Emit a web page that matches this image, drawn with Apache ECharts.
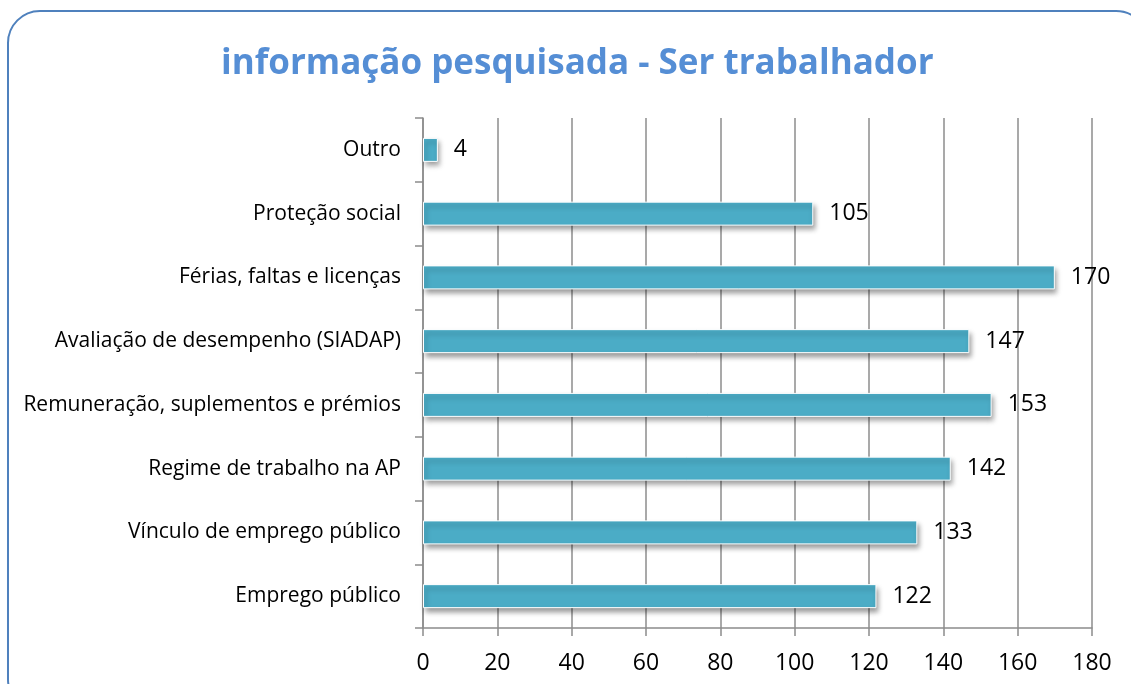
<!DOCTYPE html>
<html><head><meta charset="utf-8">
<script src="https://cdn.jsdelivr.net/npm/echarts@6/dist/echarts.min.js"></script>
<style>html,body{margin:0;padding:0;background:#fff}#c{width:1131px;height:684px}</style>
</head><body><div id="c"></div>
<script>
const categories = ["Emprego público","Vínculo de emprego público","Regime de trabalho na AP","Remuneração, suplementos e prémios","Avaliação de desempenho (SIADAP)","Férias, faltas e licenças","Proteção social","Outro"];
const values = [122,133,142,153,147,170,105,4];
const titleText = "informação pesquisada - Ser trabalhador";
const F = "'Open Sans', sans-serif";
const chart = echarts.init(document.getElementById('c'));
chart.setOption({
  animation:false,
  backgroundColor:'#fff',
  title:{text:titleText,left:216,top:42,textStyle:{fontFamily:F,fontSize:35,fontWeight:'bold',color:'#558ED5'}},
  graphic:[{type:'rect',shape:{x:8,y:11,width:1140,height:700,r:32},style:{fill:'none',stroke:'#4F81BD',lineWidth:2},silent:true,z:-1}],
  grid:{left:423,right:39,top:118,bottom:56},
  xAxis:{type:'value',min:0,max:180,interval:20,
    axisLine:{show:true,lineStyle:{color:'#8c8c8c',width:1.5}},
    axisTick:{show:true,length:8,lineStyle:{color:'#8c8c8c',width:1.5}},
    splitLine:{show:true,lineStyle:{color:'#8c8c8c',width:1.5}},
    axisLabel:{fontFamily:F,fontSize:23,color:'#000',margin:24}},
  yAxis:{type:'category',data:categories,
    axisLine:{show:true,lineStyle:{color:'#8c8c8c',width:1.5}},
    axisTick:{show:true,length:8,inside:false,lineStyle:{color:'#8c8c8c',width:1.5}},
    axisLabel:{fontFamily:F,fontSize:21,color:'#000',margin:22}},
  series:[{type:'bar',data:values,barWidth:24,
    itemStyle:{color:'#4BACC6',borderColor:'#ffffff',borderWidth:1,shadowColor:'rgba(0,0,0,0.4)',shadowBlur:5,shadowOffsetX:2,shadowOffsetY:4},
    label:{show:true,position:'right',distance:16,fontFamily:F,fontSize:23,color:'#000'}}]
});
</script></body></html>
